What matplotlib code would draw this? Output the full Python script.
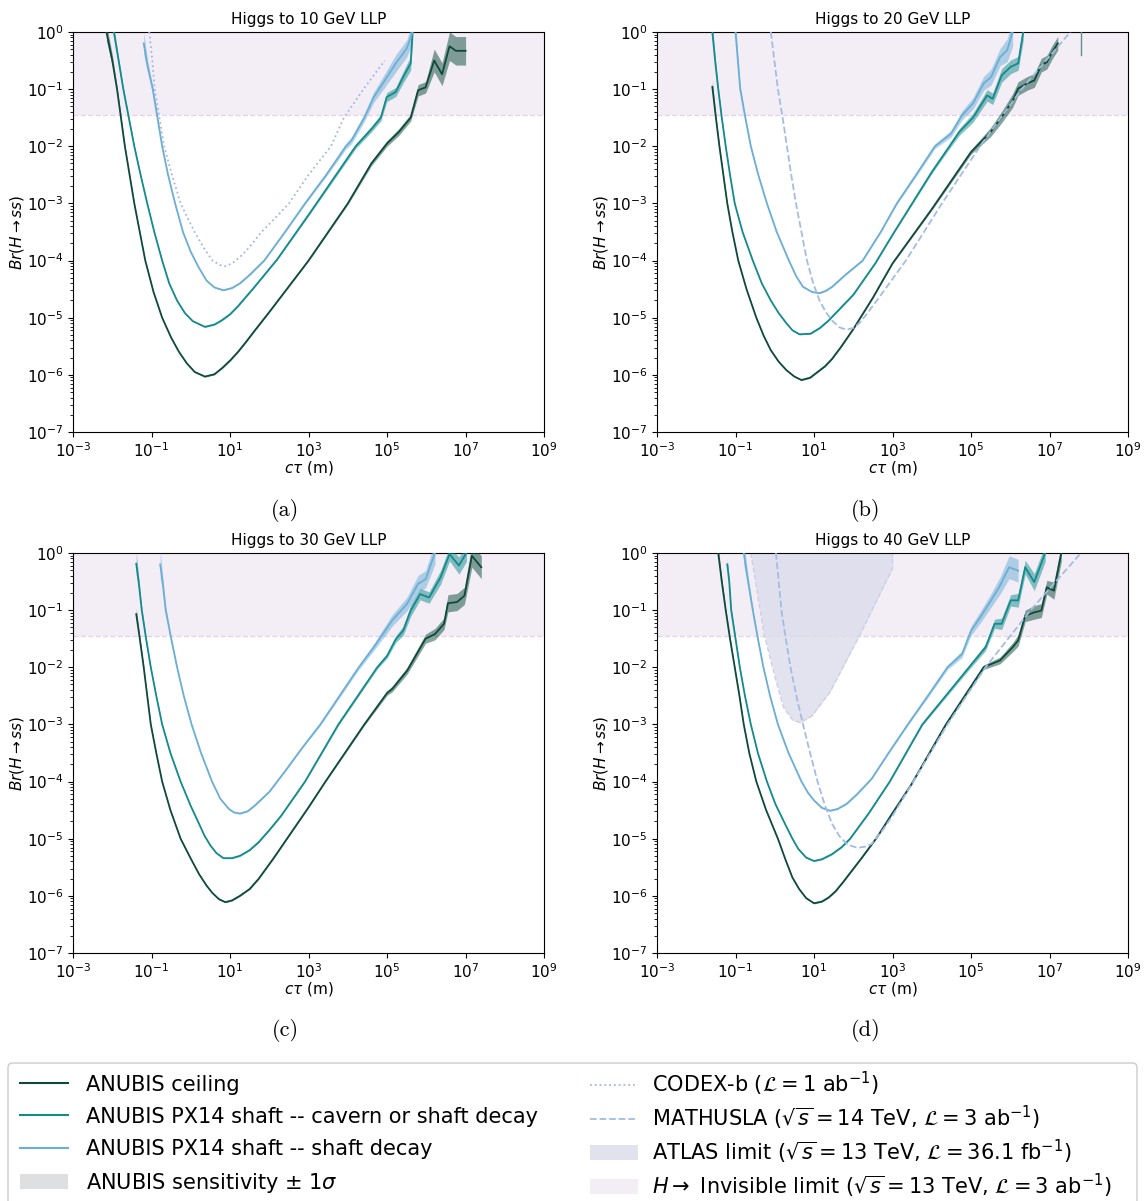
import numpy as np
import matplotlib
matplotlib.use("Agg")
from matplotlib import pyplot as plt
from matplotlib.lines import Line2D
from matplotlib.patches import Patch, FancyBboxPatch
from matplotlib.ticker import NullLocator

# values, as log10 numbers:
# (log10 c*tau [m], log10 Br, half width of the 1 sigma band in decades)

INVISIBLE_LIMIT = 0.035
X_TICKS = [1e-3, 1e-1, 1e1, 1e3, 1e5, 1e7, 1e9]

# --- (a) 10 GeV ---
a_ceil = [(-2.15, 0.0, 0.15), (-2.0, -0.5, 0.1), (-1.88, -1.0, 0.06), (-1.78, -1.5, 0.04), (-1.68, -2.0, 0.03),
          (-1.56, -2.5, 0.02), (-1.44, -3.0, 0.02), (-1.3, -3.5, 0.01), (-1.16, -4.0, 0.01), (-0.95, -4.55, 0.01),
          (-0.73, -5.0, 0.01), (-0.5, -5.35, 0.01), (-0.3, -5.6, 0.01), (-0.1, -5.8, 0.01), (0.1, -5.95, 0.01),
          (0.36, -6.03, 0.01), (0.6, -5.99, 0.01), (0.8, -5.88, 0.01), (1.0, -5.75, 0.01), (1.2, -5.6, 0.01),
          (1.4, -5.43, 0.01), (1.6, -5.25, 0.01), (2.0, -4.9, 0.01), (2.5, -4.45, 0.01), (3.0, -4.0, 0.01),
          (4.0, -3.0, 0.02), (4.6, -2.3, 0.04), (5.0, -1.95, 0.05), (5.3, -1.75, 0.06), (5.6, -1.5, 0.06),
          (5.79, -1.02, 0.1), (5.98, -0.97, 0.1), (6.2, -0.5, 0.2), (6.4, -0.74, 0.2), (6.59, -0.25, 0.25),
          (6.75, -0.33, 0.25), (7.0, -0.33, 0.25)]
a_cav = [(-1.96, 0.0, 0.1), (-1.84, -0.5, 0.06), (-1.72, -1.0, 0.04), (-1.58, -1.5, 0.03), (-1.44, -2.0, 0.02),
         (-1.28, -2.5, 0.01), (-1.11, -3.0, 0.01), (-0.93, -3.5, 0.01), (-0.73, -4.0, 0.01), (-0.55, -4.4, 0.01),
         (-0.35, -4.7, 0.01), (-0.15, -4.92, 0.01), (0.05, -5.06, 0.01), (0.36, -5.16, 0.01), (0.6, -5.12, 0.01),
         (0.78, -5.05, 0.01), (1.0, -4.94, 0.01), (1.2, -4.8, 0.01), (1.6, -4.48, 0.01), (2.2, -3.98, 0.01),
         (3.0, -3.2, 0.02), (3.6, -2.6, 0.03), (4.2, -2.0, 0.04), (4.6, -1.7, 0.05), (4.84, -1.5, 0.06),
         (4.99, -1.14, 0.08), (5.22, -1.05, 0.08), (5.41, -0.79, 0.1), (5.6, -0.55, 0.12), (5.65, 0.0, 0.15)]
a_shaft = [(-1.2, -0.2, 0.2), (-1.1, -0.6, 0.1), (-0.97, -1.0, 0.06), (-0.85, -1.5, 0.03), (-0.73, -2.0, 0.02),
           (-0.58, -2.5, 0.01), (-0.4, -3.0, 0.01), (-0.2, -3.5, 0.01), (0.0, -3.85, 0.01), (0.2, -4.12, 0.01),
           (0.4, -4.35, 0.01), (0.6, -4.47, 0.01), (0.83, -4.52, 0.01), (1.05, -4.48, 0.01), (1.25, -4.4, 0.01),
           (1.5, -4.25, 0.01), (1.87, -4.0, 0.01), (2.4, -3.5, 0.01), (2.91, -3.0, 0.02), (3.45, -2.5, 0.03),
           (3.95, -2.0, 0.05), (4.09, -1.9, 0.06), (4.42, -1.5, 0.07), (4.66, -1.14, 0.09), (4.94, -0.85, 0.12),
           (5.22, -0.55, 0.15), (5.5, -0.29, 0.15), (5.65, 0.0, 0.2)]
a_codex = [(-1.06, 0.0), (-0.98, -0.5), (-0.92, -1.0), (-0.8, -1.5), (-0.68, -2.0), (-0.48, -2.5), (-0.26, -3.0),
           (-0.05, -3.3), (0.12, -3.53), (0.35, -3.8), (0.55, -4.0), (0.75, -4.08), (0.88, -4.1), (1.05, -4.05),
           (1.25, -3.94), (1.5, -3.76), (1.8, -3.5), (2.2, -3.22), (2.5, -3.0), (3.0, -2.5), (3.57, -2.0),
           (3.9, -1.5), (4.4, -1.0), (4.94, -0.5)]

# --- (b) 20 GeV ---
b_ceil = [(-1.59, -0.96, 0.1), (-1.5, -1.5, 0.05), (-1.41, -2.0, 0.03), (-1.31, -2.5, 0.02), (-1.21, -3.0, 0.02),
          (-1.08, -3.5, 0.01), (-0.93, -4.0, 0.01), (-0.72, -4.5, 0.01), (-0.47, -5.0, 0.01), (-0.28, -5.32, 0.01),
          (-0.1, -5.57, 0.01), (0.1, -5.77, 0.01), (0.3, -5.92, 0.01), (0.5, -6.03, 0.01), (0.68, -6.09, 0.01),
          (0.9, -6.05, 0.01), (1.09, -5.95, 0.01), (1.28, -5.85, 0.01), (1.46, -5.72, 0.01), (1.7, -5.5, 0.01),
          (2.0, -5.2, 0.01), (2.5, -4.65, 0.01), (3.0, -4.05, 0.01), (4.0, -3.1, 0.02), (5.0, -2.1, 0.04),
          (5.5, -1.75, 0.08), (5.78, -1.49, 0.1), (6.06, -1.2, 0.12), (6.2, -0.99, 0.12), (6.43, -0.9, 0.12),
          (6.61, -0.85, 0.12), (6.79, -0.58, 0.12), (6.93, -0.53, 0.12), (7.07, -0.35, 0.12), (7.21, -0.2, 0.12)]
b_cav = [(-1.59, 0.0, 0.15), (-1.52, -0.5, 0.08), (-1.44, -1.0, 0.05), (-1.35, -1.5, 0.03), (-1.25, -2.0, 0.02),
         (-1.14, -2.5, 0.01), (-1.02, -3.0, 0.01), (-0.82, -3.5, 0.01), (-0.56, -4.0, 0.01), (-0.33, -4.4, 0.01),
         (-0.1, -4.7, 0.01), (0.1, -4.92, 0.01), (0.3, -5.1, 0.01), (0.45, -5.22, 0.01), (0.63, -5.29, 0.01),
         (0.91, -5.28, 0.01), (1.15, -5.18, 0.01), (1.37, -5.05, 0.01), (1.65, -4.85, 0.01), (2.0, -4.6, 0.01),
         (2.56, -4.05, 0.01), (3.0, -3.55, 0.01), (3.5, -3.0, 0.02), (4.0, -2.45, 0.03), (4.4, -2.05, 0.04),
         (4.7, -1.75, 0.06), (5.05, -1.5, 0.08), (5.41, -1.11, 0.1), (5.55, -1.17, 0.1), (5.78, -0.76, 0.12),
         (6.01, -0.61, 0.12), (6.2, -0.55, 0.12), (6.33, 0.0, 0.15)]
b_shaft = [(-1.0, 0.0, 0.2), (-0.94, -0.5, 0.1), (-0.88, -1.0, 0.06), (-0.75, -1.5, 0.03), (-0.61, -2.0, 0.02),
           (-0.42, -2.5, 0.01), (-0.2, -3.0, 0.01), (0.05, -3.5, 0.01), (0.36, -4.0, 0.01), (0.55, -4.28, 0.01),
           (0.72, -4.46, 0.01), (0.95, -4.55, 0.01), (1.14, -4.57, 0.01), (1.3, -4.53, 0.01), (1.46, -4.46, 0.01),
           (1.8, -4.25, 0.01), (2.24, -4.0, 0.01), (2.7, -3.5, 0.01), (3.11, -3.0, 0.02), (3.6, -2.5, 0.03),
           (4.08, -2.0, 0.04), (4.49, -1.78, 0.06), (4.77, -1.46, 0.08), (5.05, -1.25, 0.1), (5.32, -0.9, 0.12),
           (5.51, -0.79, 0.14), (5.74, -0.44, 0.15), (5.92, -0.32, 0.2), (6.06, 0.0, 0.25)]
b_mathusla = [(-0.1, 0.0), (-0.01, -0.5), (0.08, -1.0), (0.2, -1.5), (0.31, -2.0), (0.42, -2.5), (0.54, -3.0),
              (0.68, -3.5), (0.82, -4.0), (0.98, -4.4), (1.14, -4.7), (1.3, -4.9), (1.46, -5.05), (1.65, -5.17),
              (1.83, -5.21), (2.0, -5.18), (2.15, -5.1), (2.35, -4.93), (2.6, -4.7), (3.34, -4.0), (4.26, -3.0),
              (5.23, -2.0), (6.29, -1.0), (7.53, 0.0)]
b_spike = [(7.79, 0.0), (7.79, -0.41)]

# --- (c) 30 GeV ---
c_ceil = [(-1.39, -1.07, 0.1), (-1.3, -1.5, 0.05), (-1.2, -2.0, 0.03), (-1.11, -2.5, 0.02), (-1.02, -3.0, 0.02),
          (-0.88, -3.5, 0.01), (-0.73, -4.0, 0.01), (-0.52, -4.5, 0.01), (-0.26, -5.0, 0.01), (0.0, -5.35, 0.01),
          (0.21, -5.62, 0.01), (0.4, -5.82, 0.01), (0.55, -5.95, 0.01), (0.72, -6.06, 0.01), (0.88, -6.11, 0.01),
          (1.05, -6.08, 0.01), (1.25, -6.0, 0.01), (1.5, -5.88, 0.01), (1.73, -5.7, 0.01), (2.1, -5.35, 0.01),
          (2.5, -4.95, 0.01), (3.0, -4.45, 0.01), (3.43, -4.0, 0.01), (4.42, -3.0, 0.02), (5.0, -2.45, 0.04),
          (5.13, -2.38, 0.05), (5.51, -2.06, 0.06), (5.98, -1.5, 0.08), (6.22, -1.42, 0.1), (6.45, -1.24, 0.1),
          (6.55, -0.88, 0.15), (6.78, -0.86, 0.15), (6.97, -0.75, 0.15), (7.16, -0.05, 0.2), (7.4, -0.25, 0.2)]
c_cav = [(-1.39, -0.19, 0.2), (-1.33, -0.5, 0.1), (-1.25, -1.0, 0.05), (-1.14, -1.5, 0.03), (-1.02, -2.0, 0.02),
         (-0.88, -2.5, 0.01), (-0.73, -3.0, 0.01), (-0.52, -3.5, 0.01), (-0.26, -4.0, 0.01), (0.0, -4.43, 0.01),
         (0.21, -4.74, 0.01), (0.35, -4.95, 0.01), (0.5, -5.12, 0.01), (0.65, -5.25, 0.01), (0.83, -5.34, 0.01),
         (1.05, -5.34, 0.01), (1.25, -5.3, 0.01), (1.5, -5.2, 0.01), (1.73, -5.06, 0.01), (2.0, -4.85, 0.01),
         (2.3, -4.6, 0.01), (2.91, -4.0, 0.01), (3.76, -3.0, 0.02), (4.75, -2.0, 0.03), (5.0, -1.8, 0.04),
         (5.22, -1.51, 0.06), (5.41, -1.36, 0.08), (5.6, -1.01, 0.1), (5.84, -0.72, 0.1), (6.07, -0.78, 0.1),
         (6.36, -0.43, 0.12), (6.59, -0.02, 0.12), (6.83, -0.22, 0.15), (7.02, 0.0, 0.15)]
c_shaft = [(-0.78, -0.2, 0.25), (-0.72, -0.5, 0.12), (-0.64, -1.0, 0.06), (-0.5, -1.5, 0.03), (-0.35, -2.0, 0.02),
           (-0.18, -2.5, 0.01), (0.02, -3.0, 0.01), (0.26, -3.5, 0.01), (0.54, -4.0, 0.01), (0.75, -4.3, 0.01),
           (0.97, -4.48, 0.01), (1.1, -4.54, 0.01), (1.25, -4.56, 0.01), (1.45, -4.52, 0.01), (1.63, -4.42, 0.01),
           (2.0, -4.18, 0.01), (2.4, -3.82, 0.01), (2.85, -3.4, 0.01), (3.3, -3.0, 0.02), (4.28, -2.0, 0.04),
           (4.66, -1.65, 0.06), (5.13, -1.18, 0.1), (5.51, -0.89, 0.12), (5.79, -0.54, 0.15), (5.98, -0.46, 0.15),
           (6.22, 0.0, 0.2)]

# --- (d) 40 GeV ---
d_ceil = [(-1.44, 0.0, 0.1), (-1.35, -0.5, 0.06), (-1.25, -1.0, 0.04), (-1.14, -1.5, 0.03), (-1.02, -2.0, 0.02),
          (-0.9, -2.5, 0.02), (-0.79, -3.0, 0.01), (-0.65, -3.5, 0.01), (-0.47, -4.0, 0.01), (-0.22, -4.5, 0.01),
          (0.08, -5.0, 0.01), (0.28, -5.38, 0.01), (0.45, -5.68, 0.01), (0.62, -5.88, 0.01), (0.8, -6.04, 0.01),
          (1.0, -6.13, 0.01), (1.2, -6.1, 0.01), (1.37, -6.03, 0.01), (1.55, -5.92, 0.01), (1.74, -5.76, 0.01),
          (2.2, -5.35, 0.01), (2.6, -4.98, 0.01), (3.0, -4.55, 0.01), (3.48, -4.05, 0.01), (4.36, -3.0, 0.02),
          (5.32, -2.0, 0.04), (5.74, -1.88, 0.06), (6.06, -1.65, 0.08), (6.2, -1.53, 0.1), (6.38, -1.1, 0.1),
          (6.61, -1.04, 0.12), (6.79, -1.01, 0.12), (6.93, -0.6, 0.12), (7.11, -0.66, 0.15), (7.3, 0.0, 0.15)]
d_cav = [(-1.21, -0.2, 0.1), (-1.16, -0.5, 0.06), (-1.11, -1.0, 0.04), (-1.0, -1.5, 0.03), (-0.89, -2.0, 0.02),
         (-0.76, -2.5, 0.01), (-0.61, -3.0, 0.01), (-0.43, -3.5, 0.01), (-0.2, -4.0, 0.01), (0.02, -4.4, 0.01),
         (0.26, -4.74, 0.01), (0.45, -5.0, 0.01), (0.6, -5.18, 0.01), (0.8, -5.33, 0.01), (1.0, -5.39, 0.01),
         (1.2, -5.36, 0.01), (1.46, -5.27, 0.01), (1.7, -5.15, 0.01), (1.92, -5.0, 0.01), (2.4, -4.55, 0.01),
         (2.93, -4.0, 0.01), (3.76, -3.0, 0.02), (4.95, -2.0, 0.04), (5.37, -1.65, 0.06), (5.6, -1.24, 0.08),
         (5.78, -1.24, 0.1), (6.01, -0.83, 0.1), (6.2, -0.83, 0.12), (6.38, -0.25, 0.12), (6.61, -0.51, 0.15),
         (6.89, 0.0, 0.15)]
d_shaft = [(-0.79, 0.0, 0.2), (-0.68, -0.5, 0.1), (-0.56, -1.0, 0.05), (-0.43, -1.5, 0.03), (-0.29, -2.0, 0.02),
           (-0.12, -2.5, 0.01), (0.08, -3.0, 0.01), (0.35, -3.5, 0.01), (0.68, -4.0, 0.01), (0.85, -4.2, 0.01),
           (1.0, -4.33, 0.01), (1.2, -4.46, 0.01), (1.41, -4.51, 0.01), (1.6, -4.48, 0.01), (1.83, -4.39, 0.01),
           (2.1, -4.22, 0.01), (2.47, -3.95, 0.01), (2.9, -3.5, 0.01), (3.39, -3.0, 0.02), (3.9, -2.5, 0.03),
           (4.4, -2.0, 0.04), (4.77, -1.77, 0.06), (5.0, -1.36, 0.08), (5.23, -1.13, 0.1), (5.51, -0.83, 0.12),
           (5.74, -0.57, 0.15), (5.97, -0.25, 0.2), (6.2, -0.31, 0.2)]
d_mathusla = [(0.03, 0.0), (0.1, -0.5), (0.17, -1.0), (0.28, -1.5), (0.4, -2.0), (0.55, -2.5), (0.72, -3.0),
              (0.9, -3.5), (1.09, -4.0), (1.27, -4.4), (1.46, -4.74), (1.65, -4.96), (1.85, -5.1), (2.1, -5.16),
              (2.3, -5.14), (2.47, -5.09), (2.75, -4.85), (3.0, -4.6), (3.53, -4.0), (4.4, -3.0), (5.37, -2.0),
              (6.52, -1.0), (7.8, 0.0)]
d_atlas = [(-0.61, 0.0), (-0.27, -1.43), (0.06, -2.31), (0.23, -2.71), (0.45, -2.92), (0.65, -2.97),
           (0.95, -2.85), (1.41, -2.43), (2.17, -1.43), (3.0, -0.27), (3.0, 0.0)]

TITLES = ["Higgs to 10 GeV LLP", "Higgs to 20 GeV LLP", "Higgs to 30 GeV LLP", "Higgs to 40 GeV LLP"]
SUBCAPTIONS = ["(a)", "(b)", "(c)", "(d)"]

C_CEIL = "#0d4a3c"
C_CAV = "#138a8c"
C_SHAFT = "#6baed6"
C_CODEX = "#a6b6df"
C_MATH = "#a3bde2"
C_ATLAS = "#dcdcec"
C_INVIS = "#f3eef6"
C_INVIS_EDGE = "#e8d2ea"


def cols(points):
    arr = np.array(points, dtype=float)
    return [arr[:, k] for k in range(arr.shape[1])]


def draw_curve(ax, points, color):
    x, y, e = cols(points)
    ax.fill_between(10 ** x, 10 ** (y - e), 10 ** (y + e), color=color, alpha=0.5, lw=0, zorder=3)
    ax.plot(10 ** x, 10 ** y, color=color, lw=1.3, zorder=4)


def draw_line(ax, points, color, ls, lw=1.3):
    x, y = cols(points)
    ax.plot(10 ** x, 10 ** y, color=color, ls=ls, lw=lw, zorder=5)


fig = plt.figure(figsize=(11.45, 12.01), dpi=100)

positions = [[0.0638, 0.6403, 0.4114, 0.3331], [0.5738, 0.6403, 0.4114, 0.3331],
             [0.0638, 0.2065, 0.4114, 0.3331], [0.5738, 0.2065, 0.4114, 0.3331]]
curves = [[a_ceil, a_cav, a_shaft], [b_ceil, b_cav, b_shaft],
          [c_ceil, c_cav, c_shaft], [d_ceil, d_cav, d_shaft]]
caption_xy = [(0.249, 0.575), (0.756, 0.575), (0.249, 0.142), (0.756, 0.142)]

for i in range(4):
    ax = fig.add_axes(positions[i])
    ax.set_xscale("log")
    ax.set_yscale("log")
    ax.set_xticks(X_TICKS)
    ax.xaxis.set_minor_locator(NullLocator())
    ax.set_xlim(1e-3, 1e9)
    ax.set_ylim(1e-7, 1)

    ax.axhspan(INVISIBLE_LIMIT, 1, color=C_INVIS, lw=0, zorder=0)
    ax.axhline(INVISIBLE_LIMIT, color=C_INVIS_EDGE, ls="--", lw=1, zorder=1)

    if i == 3:
        ax_x, ax_y = cols(d_atlas)
        ax.fill_between(10 ** ax_x, 10 ** ax_y, 1, color=C_ATLAS, alpha=0.8, lw=0, zorder=2)
        ax.plot(10 ** ax_x, 10 ** ax_y, color="#cfcfe4", ls="--", lw=1, zorder=2)

    for pts, col in zip(curves[i], [C_CEIL, C_CAV, C_SHAFT]):
        draw_curve(ax, pts, col)

    if i == 0:
        draw_line(ax, a_codex, C_CODEX, ":")
    if i == 1:
        draw_line(ax, b_mathusla, C_MATH, "--")
        draw_line(ax, b_spike, "#5e8f8c", "-", lw=1)
    if i == 3:
        draw_line(ax, d_mathusla, C_MATH, "--")

    ax.set_title(TITLES[i], fontsize=11, pad=6)
    ax.set_xlabel(r"$c\tau$ (m)", fontsize=11, labelpad=-1)
    ax.set_ylabel(r"$Br(H\rightarrow ss)$", fontsize=11, labelpad=0.5)
    ax.tick_params(labelsize=11)

    fig.text(caption_xy[i][0], caption_xy[i][1], SUBCAPTIONS[i], fontsize=16,
             family="cmr10", ha="center", va="center")

handles_left = [
    Line2D([], [], color=C_CEIL, lw=1.5),
    Line2D([], [], color=C_CAV, lw=1.5),
    Line2D([], [], color=C_SHAFT, lw=1.5),
    Patch(facecolor="#dedfe1", edgecolor="none"),
]
labels_left = [
    "ANUBIS ceiling",
    "ANUBIS PX14 shaft -- cavern or shaft decay",
    "ANUBIS PX14 shaft -- shaft decay",
    r"ANUBIS sensitivity $\pm$ $1\sigma$",
]
handles_right = [
    Line2D([], [], color=C_CODEX, ls=":", lw=1.3),
    Line2D([], [], color=C_MATH, ls="--", lw=1.3),
    Patch(facecolor="#e2e2ef", edgecolor="none"),
    Patch(facecolor=C_INVIS, edgecolor="none"),
]
labels_right = [
    r"CODEX-b ($\mathcal{L} = 1$ ab$^{-1}$)",
    r"MATHUSLA ($\sqrt{s} = 14$ TeV, $\mathcal{L} = 3$ ab$^{-1}$)",
    r"ATLAS limit ($\sqrt{s} = 13$ TeV, $\mathcal{L} = 36.1$ fb$^{-1}$)",
    r"$H\rightarrow$ Invisible limit ($\sqrt{s} = 13$ TeV, $\mathcal{L} = 3$ ab$^{-1}$)",
]

# one shared frame, two columns of entries
frame = FancyBboxPatch((8 / 1145, -0.02), 1129 / 1145, 0.02 + 1 - 1063 / 1201,
                       boxstyle="round,pad=0,rounding_size=0.004", transform=fig.transFigure,
                       facecolor="white", edgecolor="0.8", lw=1, zorder=1)
fig.add_artist(frame)
fig.legend(handles_left, labels_left, loc="upper left", bbox_to_anchor=(20 / 1145, 0.1052),
           fontsize=15, handlelength=2.3, handletextpad=0.85, labelspacing=0.58,
           borderpad=0, borderaxespad=0, frameon=False)
fig.legend(handles_right, labels_right, loc="upper left", bbox_to_anchor=(590 / 1145, 0.1095),
           fontsize=15, handlelength=2.3, handletextpad=0.7, labelspacing=0.28,
           borderpad=0, borderaxespad=0, frameon=False)

fig.savefig("out.png", dpi=100)
